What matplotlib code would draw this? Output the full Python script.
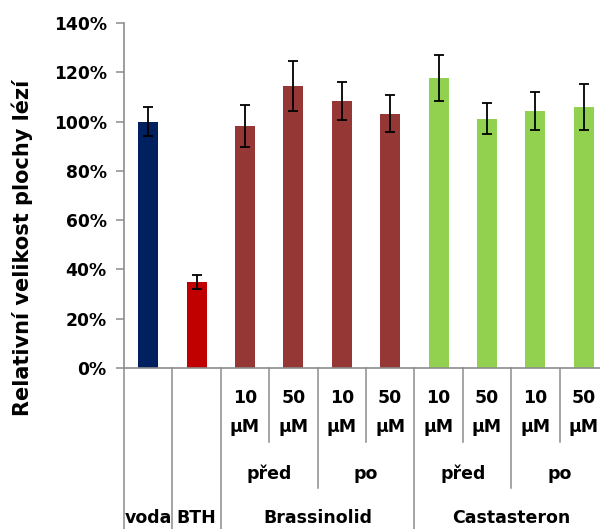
import matplotlib
matplotlib.use("Agg")
import matplotlib.pyplot as plt
from matplotlib.ticker import FuncFormatter

plt.rcParams['font.family'] = ['DejaVu Sans']

values = [100.0, 34.9, 98.2, 114.4, 108.4, 103.1, 117.7, 101.1, 104.3, 105.9]
errors = [6.0, 2.7, 8.4, 10.0, 7.6, 7.5, 9.4, 6.3, 7.8, 9.5]
colors = ['#002060', '#c00000', '#953735', '#953735', '#953735', '#953735',
          '#92d050', '#92d050', '#92d050', '#92d050']
conc_labels = ['', '', '10', '50', '10', '50', '10', '50', '10', '50']
timing_labels = ['před', 'po', 'před', 'po']
group_labels = ['voda', 'BTH', 'Brassinolid', 'Castasteron']
y_label = 'Relativní velikost plochy lézí'

fig = plt.figure(figsize=(6, 5.29), dpi=100)
ax = fig.add_axes([124/600, 1 - 368/529, (608 - 124)/600, (368 - 23)/529])

x = list(range(len(values)))
ax.bar(x, values, width=0.41, color=colors, zorder=2)
ax.errorbar(x, values, yerr=errors, fmt='none', ecolor='black',
            elinewidth=1.3, capsize=3.6, capthick=1.3, zorder=3)

ax.set_xlim(-0.5, len(values) - 0.5)
ax.set_ylim(0, 140)
ax.set_yticks(range(0, 141, 20))
ax.yaxis.set_major_formatter(FuncFormatter(lambda v, p: f"{int(v)}%"))
for lab in ax.get_yticklabels():
    lab.set_fontweight('bold')
    lab.set_fontsize(12.3)
ax.tick_params(axis='y', direction='out', length=5.5, width=1.1, color='#8c8c8c', pad=7)
ax.set_xticks([])
for s in ['top', 'right']:
    ax.spines[s].set_visible(False)
for s in ['left', 'bottom']:
    ax.spines[s].set_color('#8c8c8c')
    ax.spines[s].set_linewidth(1.2)

fig.text(22/600, 1 - 248/529, y_label, rotation=90, ha='center', va='center',
         fontsize=15, fontweight='bold')

tr = ax.get_xaxis_transform()
lc = '#8c8c8c'
H = 345.0
def ay(py):
    return (368 - py) / H

# separators
full = [-0.5, 0.5, 1.5, 5.5, 9.5]
mid = [3.5, 7.5]
inner = [2.5, 4.5, 6.5, 8.5]
for xs in full:
    ax.plot([xs, xs], [0, ay(540)], transform=tr, color=lc, lw=1.1, clip_on=False)
for xs in mid:
    ax.plot([xs, xs], [0, ay(488)], transform=tr, color=lc, lw=1.1, clip_on=False)
for xs in inner:
    ax.plot([xs, xs], [0, ay(442)], transform=tr, color=lc, lw=1.1, clip_on=False)

fs = 12.5
for i, c in enumerate(conc_labels):
    if c:
        ax.text(i, ay(398), c, transform=tr, ha='center', va='center',
                fontsize=fs, fontweight='bold')
        ax.text(i, ay(427), 'μM', transform=tr, ha='center', va='center',
                fontsize=fs, fontweight='bold')
timing_pos = [2.5, 4.5, 6.5, 8.5]
for xp, t in zip(timing_pos, timing_labels):
    ax.text(xp, ay(474), t, transform=tr, ha='center', va='center',
            fontsize=fs, fontweight='bold')
group_pos = [0, 1, 3.5, 7.5]
for xp, g in zip(group_pos, group_labels):
    ax.text(xp, ay(518), g, transform=tr, ha='center', va='center',
            fontsize=fs, fontweight='bold')

fig.savefig('out.png', dpi=100)
